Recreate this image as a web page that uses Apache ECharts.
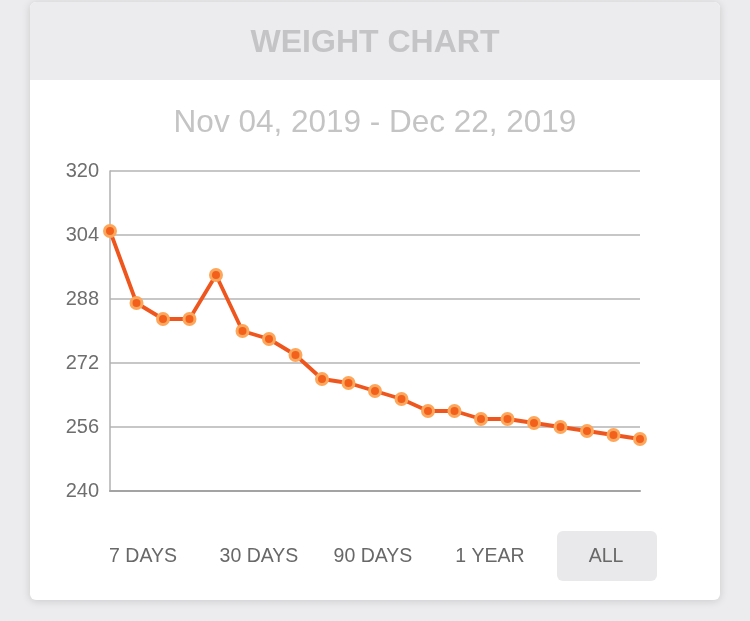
<!DOCTYPE html>
<html>
<head>
<meta charset="utf-8">
<title>Weight Chart</title>
<script src="https://cdn.jsdelivr.net/npm/echarts@6/dist/echarts.min.js"></script>
<style>
  html, body { margin: 0; padding: 0; background: #ececee; }
  #chart { width: 750px; height: 621px; }
</style>
</head>
<body>
<div id="chart"></div>
<script>
// weigh-ins between Nov 04 and Dec 22, 2019
const entries = ['1', '2', '3', '4', '5', '6', '7', '8', '9', '10', '11',
                 '12', '13', '14', '15', '16', '17', '18', '19', '20', '21'];
const weights = [305, 287, 283, 283, 294, 280, 278, 274, 268, 267, 265,
                 263, 260, 260, 258, 258, 257, 256, 255, 254, 253];
const ranges = ['7 DAYS', '30 DAYS', '90 DAYS', '1 YEAR', 'ALL'];
const rangeX = [143, 259, 373, 490, 606];

document.addEventListener('DOMContentLoaded', () => {
    const chart = echarts.init(document.getElementById('chart'));
    const font = '"Liberation Sans", Arial, sans-serif';

    const buttons = ranges.map((r, i) => ({
        type: 'text',
        x: rangeX[i],
        y: 557,
        z: 5,
        style: {
            text: r,
            fill: '#686868',
            font: '19.5px ' + font,
            align: 'center',
            verticalAlign: 'middle',
            textAlign: 'center',
            textVerticalAlign: 'middle'
        }
    }));

    const option = {
        backgroundColor: '#ececee',
        animation: false,
        grid: { left: 110, right: 110, top: 171, bottom: 130 },
        xAxis: {
            type: 'category',
            data: entries,
            boundaryGap: false,
            axisLine: { lineStyle: { color: '#a3a3a3', width: 2 } },
            axisTick: { show: false },
            axisLabel: { show: false },
            splitLine: { show: false }
        },
        yAxis: {
            type: 'value',
            min: 240,
            max: 320,
            interval: 16,
            axisLine: { show: true, lineStyle: { color: '#b0b0b0', width: 1.5 } },
            axisTick: { show: false },
            axisLabel: { color: '#6e6e6e', fontSize: 20, fontFamily: font, margin: 11, padding: [3, 0, 0, 0] },
            splitLine: { lineStyle: { color: '#b4b4b4', width: 1.5 } }
        },
        series: [{
            type: 'line',
            data: weights,
            z: 3,
            symbol: 'circle',
            symbolSize: 11,
            lineStyle: { color: '#ef561d', width: 3.8 },
            itemStyle: { color: '#f2601c', borderColor: '#fca75c', borderWidth: 3 }
        }],
        graphic: [
            {
                type: 'rect', z: -10,
                shape: { x: 30, y: 2, width: 690, height: 598, r: 6 },
                style: { fill: '#ffffff', shadowBlur: 8, shadowColor: 'rgba(0,0,0,0.15)', shadowOffsetY: 1 }
            },
            {
                type: 'rect', z: -9,
                shape: { x: 30, y: 2, width: 690, height: 78, r: [6, 6, 0, 0] },
                style: { fill: '#ececee' }
            },
            {
                type: 'text', x: 375, y: 43, z: 5,
                style: {
                    text: 'WEIGHT CHART', fill: '#c4c4c6',
                    font: 'bold 32px ' + font,
                    align: 'center', verticalAlign: 'middle',
                    textAlign: 'center', textVerticalAlign: 'middle'
                }
            },
            {
                type: 'text', x: 375, y: 123, z: 5,
                style: {
                    text: 'Nov 04, 2019 - Dec 22, 2019', fill: '#c4c4c4',
                    font: '31.5px ' + font,
                    align: 'center', verticalAlign: 'middle',
                    textAlign: 'center', textVerticalAlign: 'middle'
                }
            },
            {
                type: 'rect', z: -5,
                shape: { x: 557, y: 531, width: 100, height: 50, r: 6 },
                style: { fill: '#e9e9eb' }
            }
        ].concat(buttons)
    };

    chart.setOption(option);

    window.addEventListener('resize', () => {
        chart.resize();
    });
});
</script>
</body>
</html>
